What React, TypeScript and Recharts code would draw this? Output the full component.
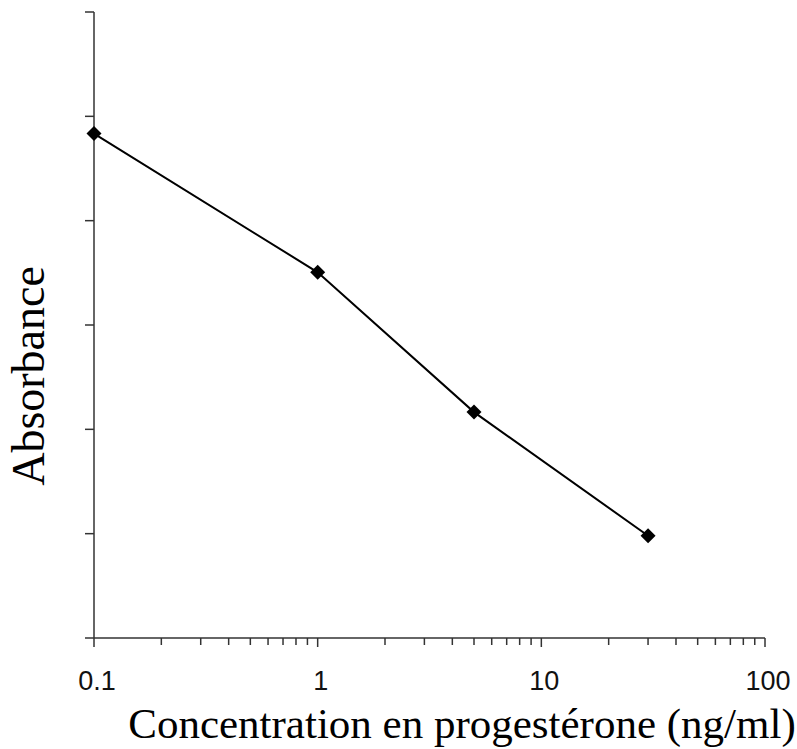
import React from 'react';
import { LineChart, Line, XAxis, YAxis, Label } from 'recharts';

// concentration (ng/ml), log scale
const concentrations = [0.1, 1, 5, 30];
// absorbance (axis has no labels)
const absorbance = [0.967, 0.701, 0.433, 0.196];

const xTicks = [
  0.1, 0.2, 0.3, 0.4, 0.5, 0.6, 0.7, 0.8, 0.9,
  1, 2, 3, 4, 5, 6, 7, 8, 9,
  10, 20, 30, 40, 50, 60, 70, 80, 90, 100,
];
const majorTicks = [0.1, 1, 10, 100];
const yTicks = [0, 0.2, 0.4, 0.6, 0.8, 1.0, 1.2];

const data = concentrations.map((x, i) => ({ x, y: absorbance[i] }));

const AXIS = '#333';

const XTick = (props: any) => {
  const { x, y, payload } = props;
  const major = majorTicks.includes(payload.value);
  return (
    <g>
      <line x1={x} x2={x} y1={y} y2={y + (major ? 9 : 7)} stroke={AXIS} strokeWidth={1.5} />
      {major && (
        <text x={x + 3} y={y + 52} textAnchor="middle" fontFamily="'Liberation Sans', Arial, sans-serif" fontSize={27} fill="#111">
          {payload.value}
        </text>
      )}
    </g>
  );
};

const Diamond = (props: any) => {
  const { cx, cy } = props;
  const r = 7.5;
  return <polygon points={`${cx},${cy - r} ${cx + r},${cy} ${cx},${cy + r} ${cx - r},${cy}`} fill="#000" />;
};

export default function App() {
  return (
    <div style={{ position: 'absolute', left: 0, top: 0, background: '#fff' }}>
      <LineChart width={797} height={749} data={data} margin={{ top: 12, right: 32, left: 34, bottom: 0 }}>
        <XAxis
          dataKey="x"
          type="number"
          scale="log"
          domain={[0.1, 100]}
          ticks={xTicks}
          interval={0}
          height={111}
          stroke={AXIS}
          strokeWidth={1.5}
          tickLine={false}
          tickSize={0}
          tickMargin={0}
          tick={<XTick />}
        >
          <Label
            content={() => (
              <text x={462} y={738} textAnchor="middle" fontFamily="'Liberation Serif', 'Times New Roman', serif" fontSize={43} fill="#000">
                Concentration en progestérone (ng/ml)
              </text>
            )}
          />
        </XAxis>
        <YAxis
          type="number"
          domain={[0, 1.2]}
          ticks={yTicks}
          width={60}
          stroke={AXIS}
          strokeWidth={1.5}
          tickSize={9}
          tickFormatter={() => ''}
        >
          <Label
            content={() => (
              <text x={0} y={0} transform="translate(44,376) rotate(-90)" textAnchor="middle" fontFamily="'Liberation Serif', 'Times New Roman', serif" fontSize={46} fill="#000">
                Absorbance
              </text>
            )}
          />
        </YAxis>
        <Line
          dataKey="y"
          stroke="#000"
          strokeWidth={2}
          dot={<Diamond />}
          activeDot={false}
          isAnimationActive={false}
        />
      </LineChart>
    </div>
  );
}
